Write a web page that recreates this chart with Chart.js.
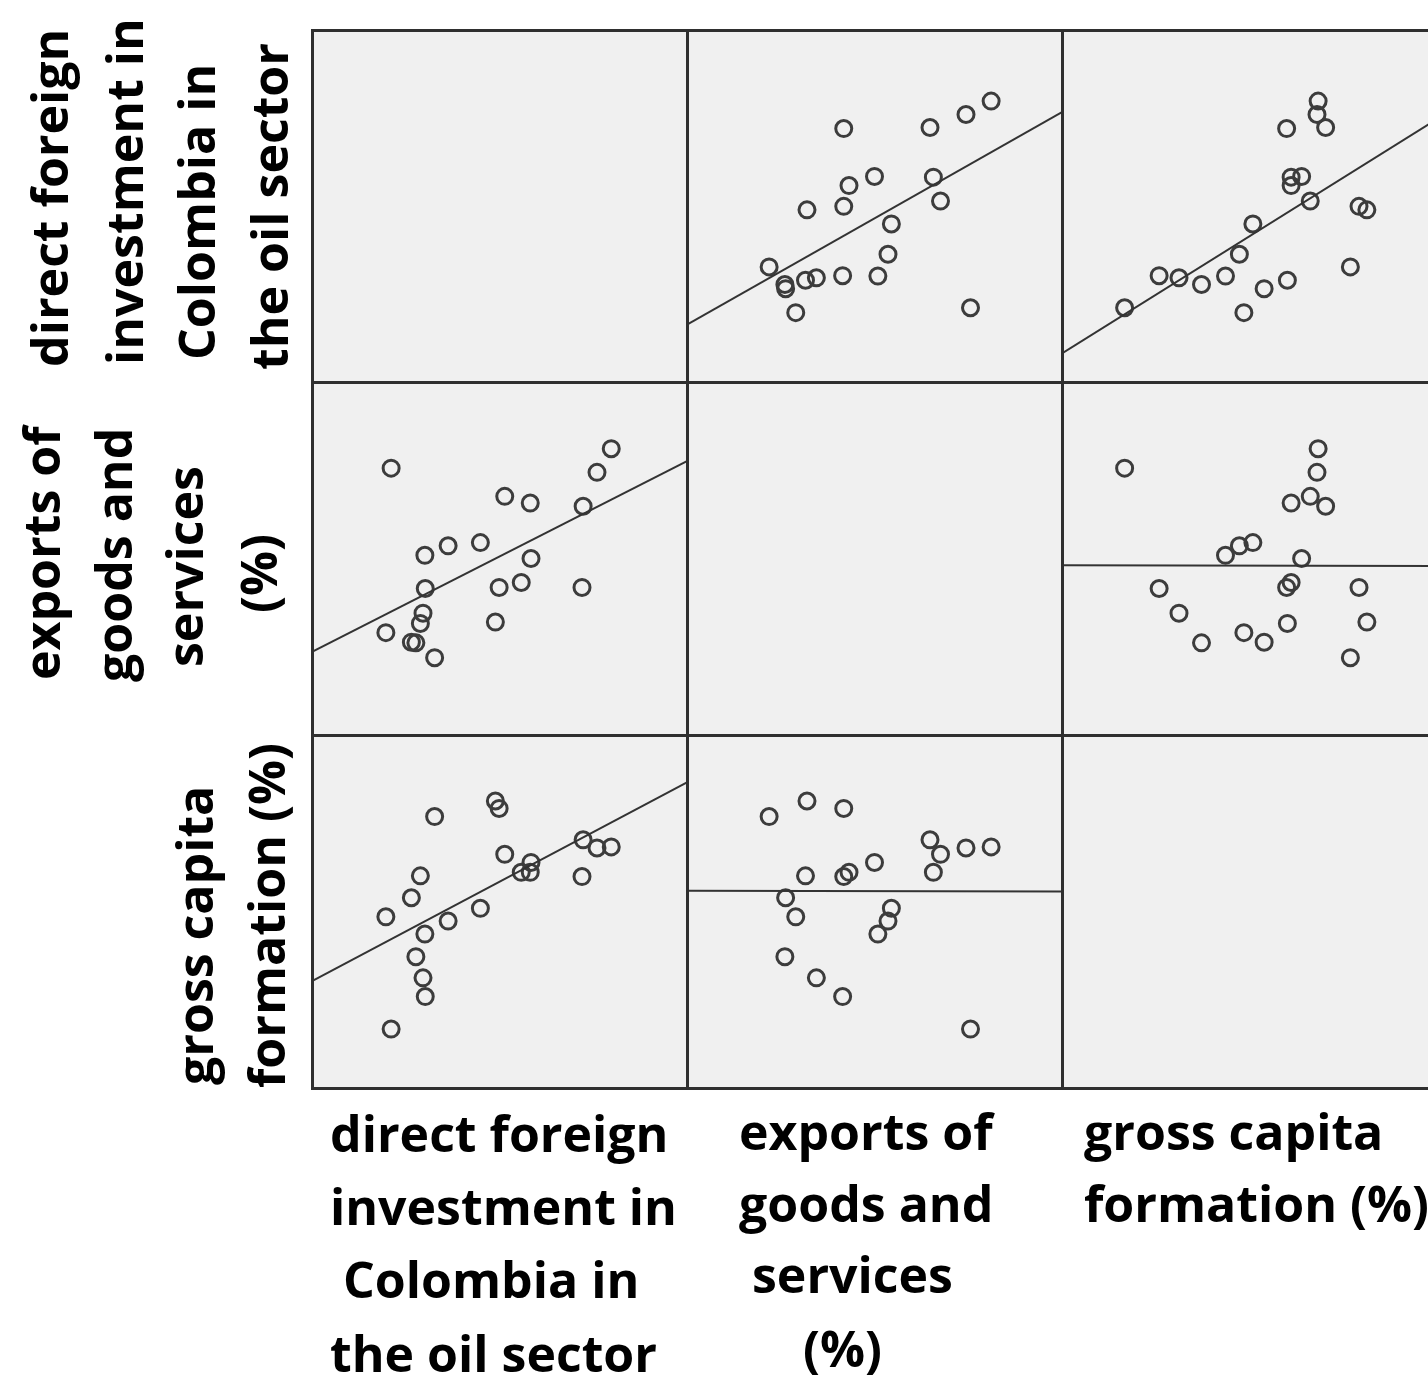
<!DOCTYPE html>
<html>
<head>
<meta charset="utf-8">
<script src="https://cdn.jsdelivr.net/npm/chart.js@4"></script>
<style>
  html, body { margin: 0; padding: 0; background: #fff; overflow: hidden; }
  #page { position: relative; width: 1428px; height: 1381px; overflow: hidden; }
  .cell { position: absolute; background: #f0f0f0; }
  .cell canvas { position: absolute; left: 0; top: 0; }
  .rule { position: absolute; background: #2f2f2f; }
  .lbl {
    position: absolute; white-space: pre; color: #000;
    font-family: "Open Sans", sans-serif; font-weight: 700;
    font-size: 50px; line-height: 50px;
  }
  .rot { transform-origin: 0 0; transform: rotate(-90deg); }
</style>
</head>
<body>
<div id="page"></div>
<script>
// one value per year, same order in every array (0-100 = share of each variable's plotted range)
const fdiOil = [21.1, 79.8, 76.0, 51.4, 58.2, 72.3, 36.3, 30.1, 44.9, 58.4, 55.8,
                49.9, 72.0, 30.2, 29.6, 28.9, 48.9, 19.7, 26.5, 27.7, 32.7];
const exportsGs = [75.6, 81.1, 74.4, 67.6, 65.7, 64.8, 53.6, 50.9, 54.5, 50.0, 43.2,
                   41.8, 41.8, 41.5, 34.5, 31.6, 32.0, 29.0, 26.3, 26.1, 21.9];
const capitalForm = [16.7, 68.3, 68.0, 66.2, 61.1, 70.3, 47.3, 43.6, 50.9, 63.9, 61.1,
                     79.2, 59.9, 25.9, 31.2, 60.1, 81.3, 48.5, 53.9, 37.2, 76.9];

const variables = [fdiOil, exportsGs, capitalForm];

const rowLabels = [
  ["direct foreign", "investment in", "Colombia in", "the oil sector"],
  ["exports of", "goods and", "services", "(%)"],
  ["gross capita", "formation (%)"],
];
const colLabels = [
  ["direct foreign", "investment in", " Colombia in", "the oil sector"],
  ["exports of", "goods and", " services", "(%)"],
  ["gross capita", "formation (%)"],
];

const page = document.getElementById("page");
const colX = [312, 687, 1062, 1437];
const rowY = [30, 382, 735, 1088];
const BASE = 44; // baseline offset inside a 50px line box

// least squares line of y on x
function fit(xs, ys) {
  const n = xs.length;
  const mx = xs.reduce((a, b) => a + b, 0) / n;
  const my = ys.reduce((a, b) => a + b, 0) / n;
  let sxy = 0, sxx = 0;
  for (let i = 0; i < n; i++) {
    sxy += (xs[i] - mx) * (ys[i] - my);
    sxx += (xs[i] - mx) * (xs[i] - mx);
  }
  const slope = sxy / sxx;
  return { slope: slope, intercept: my - slope * mx };
}

function makePanel(r, c) {
  const w = colX[c + 1] - colX[c];
  const h = rowY[r + 1] - rowY[r];
  const cell = document.createElement("div");
  cell.className = "cell";
  cell.style.left = colX[c] + "px";
  cell.style.top = rowY[r] + "px";
  cell.style.width = w + "px";
  cell.style.height = h + "px";
  page.appendChild(cell);
  if (r === c) return;

  const canvas = document.createElement("canvas");
  canvas.width = w;
  canvas.height = h;
  canvas.style.width = w + "px";
  canvas.style.height = h + "px";
  cell.appendChild(canvas);

  const xs = variables[c];
  const ys = variables[r];
  const line = fit(xs, ys);
  const points = xs.map((x, i) => ({ x: x, y: ys[i] }));

  new Chart(canvas.getContext("2d"), {
    type: "scatter",
    data: {
      datasets: [
        {
          type: "line",
          data: [
            { x: 0, y: line.intercept },
            { x: 100, y: line.intercept + line.slope * 100 },
          ],
          borderColor: "#333",
          borderWidth: 2,
          pointRadius: 0,
          fill: false,
        },
        {
          data: points,
          pointRadius: 8,
          pointHoverRadius: 8,
          borderWidth: 3,
          borderColor: "#3c3c3c",
          backgroundColor: "rgba(0,0,0,0)",
        },
      ],
    },
    options: {
      responsive: false,
      animation: false,
      layout: { padding: 0, autoPadding: false },
      plugins: { legend: { display: false }, tooltip: { enabled: false } },
      scales: {
        x: { type: "linear", min: 0, max: 100, display: false },
        y: { type: "linear", min: 0, max: 100, display: false },
      },
    },
  });
}

for (let r = 0; r < 3; r++) {
  for (let c = 0; c < 3; c++) makePanel(r, c);
}

// frame lines
colX.forEach((x) => {
  const d = document.createElement("div");
  d.className = "rule";
  d.style.left = x - 1.5 + "px";
  d.style.top = rowY[0] - 1.5 + "px";
  d.style.width = "3px";
  d.style.height = rowY[3] - rowY[0] + 3 + "px";
  page.appendChild(d);
});
rowY.forEach((y) => {
  const d = document.createElement("div");
  d.className = "rule";
  d.style.left = colX[0] - 1.5 + "px";
  d.style.top = y - 1.5 + "px";
  d.style.width = colX[3] - colX[0] + 3 + "px";
  d.style.height = "3px";
  page.appendChild(d);
});

function addText(text, left, top, rotated) {
  const d = document.createElement("div");
  d.className = rotated ? "lbl rot" : "lbl";
  d.textContent = text;
  d.style.left = left + "px";
  d.style.top = top + "px";
  page.appendChild(d);
}

// row labels (rotated, read bottom to top)
const rowBase = [[68, 143, 215, 288], [60, 132, 203, 277], [213, 285]];
const rowStart = [[367, 365, 360, 370], [680, 682, 667, 613], [1085, 1088]];
rowLabels.forEach((lines, r) => {
  lines.forEach((t, i) => addText(t, rowBase[r][i] - BASE, rowStart[r][i], true));
});

// column labels under the panels
const colStart = [[330, 330, 330, 330], [739, 739, 739, 803], [1084, 1084]];
const colBase = [[1152, 1225, 1298, 1372], [1150, 1222, 1293, 1367], [1150, 1222]];
colLabels.forEach((lines, c) => {
  lines.forEach((t, i) => addText(t, colStart[c][i], colBase[c][i] - BASE, false));
});
</script>
</body>
</html>
